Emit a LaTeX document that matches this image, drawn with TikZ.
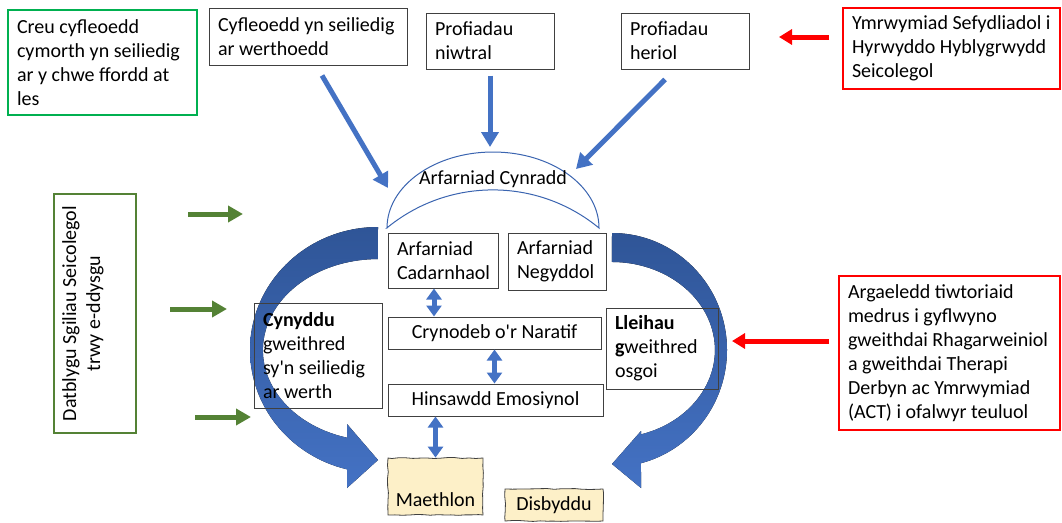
\documentclass[tikz,border=0pt]{standalone}
\usepackage{fontspec}
\setmainfont{Carlito}
\usetikzlibrary{arrows.meta,calc,decorations.pathmorphing}

\definecolor{bluemid}{HTML}{4472C4}
\definecolor{bluedark}{HTML}{2F5597}
\definecolor{lensline}{HTML}{3A64B0}
\definecolor{boxline}{HTML}{404040}
\definecolor{brightgreen}{HTML}{00B050}
\definecolor{olivegreen}{HTML}{548235}
\definecolor{alertred}{HTML}{FF0000}
\definecolor{paper}{HTML}{FDF0C8}

\pgfmathsetseed{7}

\begin{document}
\begin{tikzpicture}[
  x=1pt, y=-1pt,
  font=\fontsize{20}{24}\selectfont,
  box/.style={draw=boxline, line width=1pt, inner xsep=9pt, inner ysep=2pt, align=flush left},
  centrebox/.style={draw=boxline, line width=1pt, inner sep=2pt, align=flush center},
  redbox/.style={box, draw=alertred, line width=2pt},
  sketchbox/.style={draw=boxline, fill=paper, line width=0.8pt, inner sep=0pt,
    decorate, decoration={random steps, segment length=7pt, amplitude=0.5pt}},
  flowblue/.style={draw=bluemid, line width=5pt, -{Triangle[length=15pt,width=17pt]}},
  twoway/.style={draw=bluemid, line width=5pt,
    {Triangle[length=11pt,width=15pt]}-{Triangle[length=11pt,width=15pt]}},
  greenarrow/.style={draw=olivegreen, line width=5pt, -{Triangle[length=15pt,width=16pt]}},
  redarrow/.style={draw=alertred, line width=5pt, -{Triangle[length=13pt,width=15pt]}},
  bigarrow/.style={top color=bluedark, bottom color=bluemid},
  lens/.style={draw=lensline, line width=1pt}
]
\useasboundingbox (0,0) rectangle (1062,522);

% the two large curved arrows round the centre column
\fill[bigarrow] (378,227)
  arc[start angle=-90, end angle=-256, x radius=128, y radius=123]
  -- (347,488) -- (378,460) -- (347,424) -- (347,437.7)
  arc[start angle=-254.4, end angle=-90, x radius=115, y radius=91] -- cycle;
\fill[bigarrow] (612,233)
  arc[start angle=-90, end angle=75.4, x radius=115, y radius=117]
  -- (641,488) -- (612,464) -- (641,431) -- (641,434.4)
  arc[start angle=73.6, end angle=-90, x radius=103, y radius=88] -- cycle;

% lens holding the primary appraisal
\draw[lens] (387,228)
  arc[start angle=180, end angle=360, x radius=106, y radius=76]
  arc[start angle=-50.5, end angle=-129.5, radius=166.8] -- cycle;
\node (cynradd) at (493,179) {Arfarniad Cynradd};

% top row
\node[box, draw=brightgreen, line width=2pt, text width=171pt, minimum height=105pt]
  (creu) at (102.5,62.5) {Creu cyfleoedd\\\mbox{cymorth yn seiliedig}\\\mbox{ar y chwe ffordd at}\\les};
\node[box, text width=180pt, minimum height=57pt]
  (cyfle) at (308,36.5) {\mbox{Cyfleoedd yn seiliedig}\\ar werthoedd};
\node[box, text width=110pt, minimum height=56pt]
  (niwtral) at (490,41) {Profiadau\\niwtral};
\node[box, text width=110pt, minimum height=56pt]
  (heriol) at (685,41) {Profiadau\\heriol};
\node[redbox, text width=199pt, minimum height=81pt]
  (ymrwym) at (951.5,48.5) {\mbox{Ymrwymiad Sefydliadol i}\\\mbox{Hyrwyddo Hyblygrwydd}\\Seicolegol};

% left side
\node[draw=olivegreen, line width=2pt, rotate=90, minimum width=239pt, minimum height=82pt]
  (datblygu) at (95,313.5) {};
\node[rotate=90, anchor=north, align=flush center, inner sep=0pt]
  (dtext) at ($(datblygu.north)+(9,0)$) {Datblygu Sgiliau Seicolegol\\trwy e-ddysgu};

% centre column
\node[box, text width=92pt, minimum height=55pt]
  (cadarn) at (443,260.5) {Arfarniad\\Cadarnhaol};
\node[box, text width=80pt, minimum height=57pt]
  (negydd) at (557,261.5) {Arfarniad\\Negyddol};
\node[centrebox, minimum width=213pt, minimum height=32pt]
  (cryno) at (494.5,333) {Crynodeb o\textquotesingle r Naratif};
\node[centrebox, minimum width=215pt, minimum height=32pt]
  (hinsawdd) at (495.5,400) {Hinsawdd Emosiynol};
\node[sketchbox, minimum width=95pt, text height=48pt, text depth=9pt]
  (maeth) at (435.5,486.5) {Maethlon};
\node[sketchbox, minimum width=98pt, minimum height=32pt]
  (disb) at (554,505) {Disbyddu};

% behaviour boxes over the curved arrows
\node[box, text width=110pt, minimum height=105pt]
  (cynyddu) at (318,355.5) {\textbf{Cynyddu}\\gweithred\\\mbox{sy\textquotesingle n seiliedig}\\ar werth};
\node[box, text width=94pt, minimum height=81pt]
  (lleihau) at (662,348.5) {\textbf{Lleihau}\\\textbf{g}weithred\\osgoi};

% right side
\node[redbox, text width=203pt, minimum height=154pt]
  (argael) at (949.5,353) {\mbox{Argaeledd tiwtoriaid}\\\mbox{medrus i gyflwyno}\\\mbox{gweithdai Rhagarweiniol}\\\mbox{a gweithdai Therapi}\\\mbox{Derbyn ac Ymrwymiad}\\\mbox{(ACT) i ofalwyr teuluol}};

% experiences feeding the primary appraisal
\coordinate (b1s) at ($(cyfle.south)+(14,10)$);
\coordinate (b1e) at (388,188);
\coordinate (b2s) at ($(niwtral.south)+(0,6)$);
\coordinate (b2e) at (490,147);
\coordinate (b3s) at ($(heriol.south)+(-20,10)$);
\coordinate (b3e) at (576,169);
\draw[flowblue] (b1s) -- (b1e);
\draw[flowblue] (b2s) -- (b2e);
\draw[flowblue] (b3s) -- (b3e);

% two-way links in the centre column
\draw[twoway] ([xshift=-9pt]cadarn.south) -- ([xshift=-9pt]cadarn.south |- cryno.north);
\draw[twoway] (cryno.south) -- (cryno.south |- hinsawdd.north);
\draw[twoway] (hinsawdd.south -| maeth.north) -- (maeth.north);

% e-learning inputs
\coordinate (g1s) at (188,214);
\coordinate (g1e) at (243,214);
\coordinate (g2s) at (170,309);
\coordinate (g2e) at (227,309);
\coordinate (g3s) at (195,417);
\coordinate (g3e) at (251,417);
\draw[greenarrow] (g1s) -- (g1e);
\draw[greenarrow] (g2s) -- (g2e);
\draw[greenarrow] (g3s) -- (g3e);

% organisational inputs
\coordinate (r1s) at ($(ymrwym.west)+(-13,-11.5)$);
\coordinate (r1e) at (779,37);
\coordinate (r2s) at ($(argael.west)+(-9,-12)$);
\coordinate (r2e) at (732,341);
\draw[redarrow] (r1s) -- (r1e);
\draw[redarrow] (r2s) -- (r2e);
\end{tikzpicture}
\end{document}
